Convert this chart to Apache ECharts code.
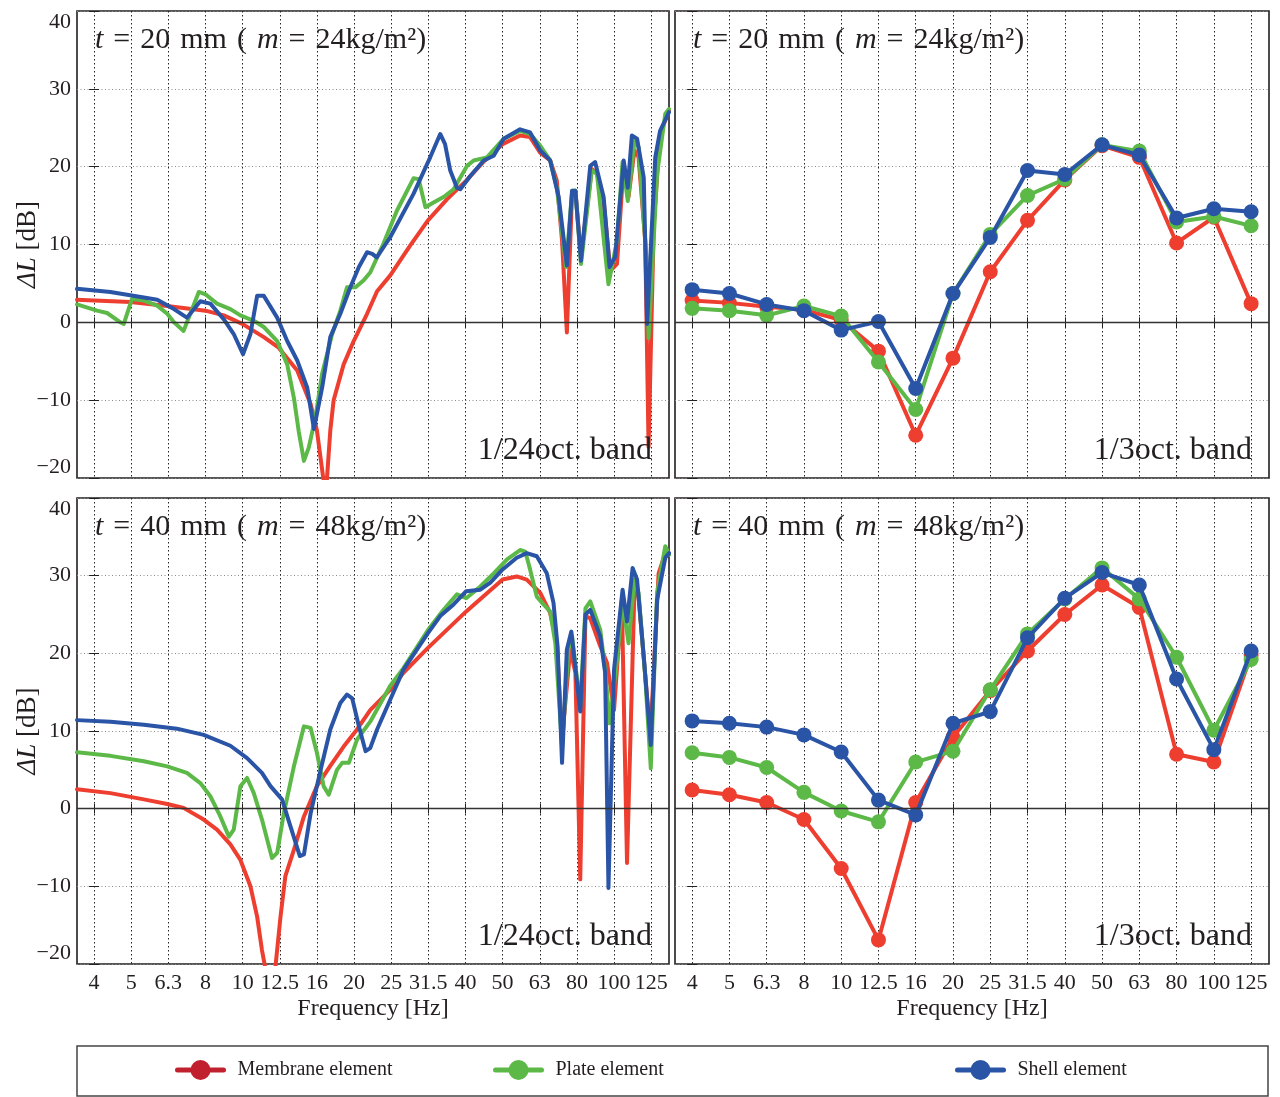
<!DOCTYPE html>
<html>
<head>
<meta charset="utf-8">
<script src="https://cdn.jsdelivr.net/npm/echarts@6/dist/echarts.min.js"></script>
<style>
  html, body { margin: 0; padding: 0; background: #ffffff; }
  #chart { width: 1280px; height: 1097px; }
</style>
</head>
<body>
<div id="chart"></div>
<script>
// 1/3-octave band centre frequencies (tick labels); x position = band index
const bandLabels = ['4', '5', '6.3', '8', '10', '12.5', '16', '20', '25', '31.5', '40', '50', '63', '80', '100', '125'];
const bandPos = bandLabels.map((_, i) => i);

// ---- 1/24-octave curves: [position in 1/3-octave bands above 4 Hz, ΔL dB] ----
const t20Membrane24 = [[-0.46,2.9],[0,2.8],[0.98,2.6],[1.97,2.1],[3.0,1.5],[3.49,0.9],[3.99,-0.2],[4.57,-1.9],[4.96,-3.2],[5.47,-6.2],[5.83,-10.5],[6.0,-13.9],[6.17,-20],[6.25,-21.5],[6.36,-13.9],[6.45,-10],[6.72,-5.4],[6.99,-2.4],[7.35,1.1],[7.62,4.0],[7.97,6.0],[8.5,9.8],[8.99,13.1],[9.5,15.8],[10.02,18.2],[10.5,20.7],[11.0,22.9],[11.47,24.0],[11.74,23.8],[12.01,21.8],[12.28,20.8],[12.46,18.2],[12.6,10.5],[12.73,-1.3],[12.87,16.5],[12.96,16.9],[13.11,8.4],[13.4,19.7],[13.54,19.1],[13.72,15.6],[13.9,6.6],[14.08,7.5],[14.26,20.3],[14.39,16.1],[14.55,22.1],[14.66,21.2],[14.84,10.5],[14.93,-16],[15.07,12.6],[15.24,24.2],[15.48,27.2]];
const t20Plate24 = [[-0.46,2.3],[0.08,1.5],[0.35,1.2],[0.71,0.0],[0.8,-0.2],[1.02,3.0],[1.34,2.8],[1.7,2.15],[1.97,1.1],[2.15,0],[2.41,-1.1],[2.82,3.9],[3.0,3.6],[3.31,2.4],[3.67,1.7],[3.94,0.9],[4.3,0.2],[4.57,-0.6],[4.93,-2.4],[5.2,-5.4],[5.38,-9.7],[5.51,-14.0],[5.65,-17.8],[5.78,-16.1],[5.96,-12.2],[6.14,-6.6],[6.41,-1.5],[6.63,1.5],[6.81,4.5],[7.04,4.5],[7.26,5.4],[7.435,6.4],[7.79,10.1],[8.15,14.3],[8.6,18.5],[8.74,18.4],[8.92,14.8],[9.14,15.4],[9.41,16.1],[9.68,17.1],[10.04,20.1],[10.22,20.8],[10.58,21.2],[11.03,23.6],[11.47,24.6],[11.74,24.2],[12.01,22.7],[12.28,20.8],[12.46,17.3],[12.71,7.1],[12.87,16.9],[12.96,16.9],[13.11,7.5],[13.4,19.5],[13.54,19.1],[13.85,4.9],[14.08,10.5],[14.23,20.6],[14.37,15.6],[14.55,23.3],[14.66,22.5],[14.87,8.4],[14.93,-2.0],[15.16,19.1],[15.38,26.8],[15.48,27.4]];
const t20Shell24 = [[-0.46,4.3],[0.44,3.9],[1.34,3.2],[1.7,2.9],[2.15,1.7],[2.5,0.6],[2.86,2.7],[3.13,2.4],[3.49,0.4],[3.76,-1.5],[4.01,-4.1],[4.21,-1.5],[4.39,3.4],[4.57,3.4],[4.93,0.6],[5.2,-2.4],[5.47,-4.9],[5.74,-8.4],[5.92,-13.7],[6.14,-8.4],[6.36,-1.9],[6.63,1.1],[6.9,4.5],[7.13,7.1],[7.35,9.0],[7.49,8.8],[7.61,8.35],[7.97,10.9],[8.6,16.5],[9.05,21.2],[9.32,24.2],[9.45,22.9],[9.59,19.5],[9.77,17.3],[9.86,17.1],[10.13,18.8],[10.49,20.8],[10.76,21.4],[11.03,23.6],[11.47,24.8],[11.74,24.4],[12.01,22.1],[12.28,20.8],[12.51,16.1],[12.73,7.3],[12.87,16.9],[12.96,16.9],[13.11,7.9],[13.36,20.1],[13.49,20.6],[13.72,16.1],[13.88,7.1],[14.03,8.4],[14.26,20.8],[14.37,17.3],[14.48,24.0],[14.62,23.6],[14.8,18.6],[14.89,-0.2],[15.11,21.2],[15.24,24.6],[15.48,27.0]];

const t40Membrane24 = [[-0.46,2.5],[0.44,2.0],[1.34,1.2],[1.97,0.6],[2.41,0.1],[2.95,-1.4],[3.31,-2.7],[3.67,-4.6],[3.94,-6.6],[4.21,-10],[4.39,-13.9],[4.52,-18.2],[4.61,-20.5],[4.72,-26],[4.88,-20.5],[5.02,-13.9],[5.15,-8.7],[5.38,-5.3],[5.65,-1.0],[6.0,2.9],[6.36,5.5],[6.72,8.0],[7.08,10.2],[7.435,12.7],[7.97,15.3],[8.33,17.5],[8.99,20.7],[10.02,25.4],[11.0,29.5],[11.38,29.9],[11.65,29.5],[12.01,27.8],[12.28,25.2],[12.46,21.3],[12.6,9.0],[12.82,20.5],[12.96,17.5],[13.09,-9.1],[13.23,24.8],[13.36,24.5],[13.63,20.9],[13.81,18.8],[14.0,12.7],[14.21,26.9],[14.35,-7.0],[14.55,28.2],[14.66,27.3],[14.98,9.3],[15.2,30.3],[15.38,32.9],[15.48,32.9]];
const t40Plate24 = [[-0.46,7.25],[0.44,6.8],[1.34,6.1],[1.97,5.45],[2.5,4.6],[2.86,3.3],[3.13,1.6],[3.4,-1.0],[3.63,-3.6],[3.76,-2.7],[3.94,2.9],[4.12,3.95],[4.3,2.0],[4.52,-1.4],[4.79,-6.35],[4.93,-5.7],[5.11,-0.56],[5.38,5.45],[5.65,10.6],[5.83,10.4],[6.0,7.2],[6.18,2.9],[6.32,1.8],[6.54,5.0],[6.68,5.9],[6.86,5.9],[7.08,8.9],[7.435,11.2],[7.97,15.8],[8.33,18.1],[8.99,23.0],[9.41,25.6],[9.77,27.6],[10.02,27.1],[10.4,28.6],[10.76,30.3],[11.12,32.1],[11.47,33.3],[11.61,33.1],[11.74,30.8],[11.92,27.3],[12.1,26.3],[12.28,25.4],[12.42,21.3],[12.6,8.0],[12.77,20.5],[12.87,22.2],[13.09,13.2],[13.23,25.8],[13.36,26.7],[13.63,23.0],[13.76,17.9],[13.88,11.0],[14.08,19.2],[14.23,26.7],[14.39,21.3],[14.55,29.5],[14.66,27.8],[14.84,17.0],[14.99,5.2],[15.16,27.8],[15.38,33.8],[15.48,32.7]];
const t40Shell24 = [[-0.46,11.4],[0.44,11.2],[1.34,10.8],[2.23,10.3],[2.95,9.5],[3.67,8.1],[4.12,6.5],[4.52,4.6],[4.75,2.9],[5.06,1.2],[5.29,-2.3],[5.54,-6.1],[5.65,-5.9],[5.83,-0.6],[6.1,5.0],[6.36,10.2],[6.63,13.6],[6.81,14.7],[6.95,14.2],[7.13,10.6],[7.31,7.4],[7.435,7.8],[7.62,10.2],[7.97,14.0],[8.33,17.9],[8.99,22.6],[9.32,24.8],[9.68,26.3],[10.02,28.0],[10.4,28.2],[10.67,29.1],[11.0,30.8],[11.38,32.3],[11.65,32.9],[11.92,32.5],[12.19,30.3],[12.37,26.5],[12.48,20.9],[12.6,5.9],[12.73,20.5],[12.85,22.8],[13.09,12.5],[13.23,25.0],[13.36,25.6],[13.63,22.2],[13.76,17.5],[13.85,-10.2],[14.0,17.9],[14.23,28.2],[14.35,24.1],[14.5,31.0],[14.62,29.5],[14.8,19.6],[14.99,8.2],[15.16,26.9],[15.38,32.3],[15.48,32.9]];

// ---- 1/3-octave band values, one per entry of bandLabels ----
const t20Membrane3 = [2.8, 2.5, 2.0, 1.6, 0.3, -3.7, -14.5, -4.6, 6.5, 13.1, 18.3, 22.7, 21.2, 10.2, 13.5, 2.4];
const t20Plate3    = [1.8, 1.5, 0.9, 2.1, 0.8, -5.1, -11.2, 3.7, 11.3, 16.3, 18.4, 22.8, 22.0, 12.9, 13.6, 12.4];
const t20Shell3    = [4.2, 3.7, 2.3, 1.5, -1.0, 0.1, -8.5, 3.7, 10.9, 19.5, 19.0, 22.8, 21.5, 13.4, 14.6, 14.2];
const t40Membrane3 = [2.4, 1.8, 0.8, -1.4, -7.7, -16.9, 0.8, 9.2, 15.2, 20.3, 25.0, 28.8, 25.9, 7.0, 6.0, 19.8];
const t40Plate3    = [7.2, 6.6, 5.3, 2.1, -0.3, -1.7, 6.0, 7.4, 15.3, 22.5, 27.0, 31.0, 27.0, 19.5, 10.1, 19.2];
const t40Shell3    = [11.3, 11.0, 10.5, 9.5, 7.3, 1.1, -0.8, 11.0, 12.5, 22.0, 27.1, 30.4, 28.8, 16.7, 7.6, 20.3];

const seriesNames = ['Membrane element', 'Plate element', 'Shell element'];
const SP = '\u2004';
const panelTitles = [
  '{i|t}' + SP + '=' + SP + '20' + SP + 'mm' + SP + '(' + SP + '{i|m}' + SP + '=' + SP + '24kg/m²)',
  '{i|t}' + SP + '=' + SP + '40' + SP + 'mm' + SP + '(' + SP + '{i|m}' + SP + '=' + SP + '48kg/m²)'
];
const bandNotes = ['1/24oct. band', '1/3oct. band'];

// ---- styling ----
const COLORS = ['#ee3e2f', '#5cb947', '#2a54a5'];
const LEGEND_COLORS = ['#c1202f', '#5cb947', '#2a54a5'];
const INK = '#231f20';
const SERIF = '"Liberation Serif", "Times New Roman", serif';
const X_MIN = -0.46, X_MAX = 15.48;

// panel rectangles: [left, top, width, height]
const panels = [
  { rect: [77, 11, 592, 467], curves: [t20Membrane24, t20Plate24, t20Shell24], bands: false, yLabels: true, xLabels: false },
  { rect: [675, 11, 594, 467], curves: [t20Membrane3, t20Plate3, t20Shell3], bands: true, yLabels: false, xLabels: false },
  { rect: [77, 498, 592, 466], curves: [t40Membrane24, t40Plate24, t40Shell24], bands: false, yLabels: true, xLabels: true },
  { rect: [675, 498, 594, 466], curves: [t40Membrane3, t40Plate3, t40Shell3], bands: true, yLabels: false, xLabels: true }
];

const grids = [], xAxes = [], yAxes = [], series = [], graphics = [];
const fmtY = v => (v < 0 ? '\u2212' + (-v) : String(v));

panels.forEach((p, g) => {
  const [l, t, w, h] = p.rect;
  grids.push({ left: l, top: t, width: w, height: h, show: true, borderColor: INK, borderWidth: 1.6,
               backgroundColor: 'transparent', outerBoundsMode: 'none', containLabel: false });

  xAxes.push({
    type: 'value', gridIndex: g, min: X_MIN, max: X_MAX, position: 'bottom',
    axisLine: { show: false },
    axisTick: { show: true, inside: true, length: 5, customValues: bandPos, lineStyle: { color: INK, width: 1 } },
    axisLabel: { show: p.xLabels, customValues: bandPos, formatter: v => bandLabels[Math.round(v)],
                 fontFamily: SERIF, fontSize: 22, color: INK, margin: 8 },
    splitLine: { show: true, lineStyle: { color: '#222', width: 1, type: [1.5, 2.5] } },
    name: p.xLabels ? 'Frequency [Hz]' : '', nameLocation: 'middle', nameGap: 33, nameMoveOverlap: false,
    nameTextStyle: { fontFamily: SERIF, fontSize: 24, color: INK }
  });
  xAxes.push({
    type: 'value', gridIndex: g, min: X_MIN, max: X_MAX, position: 'top',
    axisLine: { show: false },
    axisTick: { show: true, inside: true, length: 5, customValues: bandPos, lineStyle: { color: INK, width: 1 } },
    axisLabel: { show: false }, splitLine: { show: false }
  });

  yAxes.push({
    type: 'value', gridIndex: g, min: -20, max: 40, interval: 10, position: 'left',
    axisLine: { show: false },
    axisTick: { show: true, inside: true, length: 5, lineStyle: { color: INK, width: 1 } },
    axisLabel: { show: p.yLabels, formatter: fmtY, fontFamily: SERIF, fontSize: 22, color: INK, margin: 6,
                 verticalAlignMinLabel: 'bottom', verticalAlignMaxLabel: 'top' },
    splitLine: { show: true, lineStyle: { color: '#8a8a8a', width: 1, type: [1, 2.5] } },
    name: p.yLabels ? '{i|ΔL} [dB]' : '', nameLocation: 'middle', nameRotate: 90, nameGap: 36, nameMoveOverlap: false,
    nameTextStyle: { fontFamily: SERIF, fontSize: 27, color: INK,
                     rich: { i: { fontFamily: SERIF, fontSize: 27, fontStyle: 'italic', color: INK } } }
  });
  yAxes.push({
    type: 'value', gridIndex: g, min: -20, max: 40, interval: 10, position: 'right',
    axisLine: { show: false },
    axisTick: { show: true, inside: true, length: 5, lineStyle: { color: INK, width: 1 } },
    axisLabel: { show: false }, splitLine: { show: false }
  });

  // zero reference line
  series.push({
    type: 'line', xAxisIndex: 2 * g, yAxisIndex: 2 * g, data: [], silent: true, z: 1,
    markLine: { silent: true, symbol: 'none', label: { show: false }, animation: false,
                lineStyle: { color: '#333', width: 1.3, type: 'solid' }, data: [{ yAxis: 0 }] }
  });

  p.curves.forEach((vals, k) => {
    const common = {
      type: 'line', name: seriesNames[k], xAxisIndex: 2 * g, yAxisIndex: 2 * g,
      z: 2 + k, animation: false, clip: true,
      lineStyle: { color: COLORS[k], width: 4, join: 'round', cap: 'round' },
      itemStyle: { color: COLORS[k] }
    };
    if (p.bands) {
      series.push(Object.assign(common, {
        data: vals.map((v, i) => [i, v]), symbol: 'circle', symbolSize: 15, showSymbol: true
      }));
    } else {
      series.push(Object.assign(common, { data: vals, symbol: 'none', showSymbol: false }));
    }
  });

  // panel title and band-resolution note
  const row = g < 2 ? 0 : 1;
  graphics.push({
    type: 'text', x: l + 18, y: t + 29, z: 10,
    style: { text: panelTitles[row], fill: INK, fontFamily: SERIF, fontSize: 30,
             verticalAlign: 'middle', align: 'left',
             rich: { i: { fontFamily: SERIF, fontSize: 30, fontStyle: 'italic', fill: INK } } }
  });
  graphics.push({
    type: 'text', x: l + w - 17, y: t + h - 27, z: 10,
    style: { text: bandNotes[p.bands ? 1 : 0], fill: INK, fontFamily: SERIF, fontSize: 32,
             verticalAlign: 'middle', align: 'right' }
  });
});

// legend frame
graphics.push({
  type: 'rect', z: 0, silent: true,
  shape: { x: 77, y: 1046, width: 1191, height: 50 },
  style: { fill: 'none', stroke: '#444', lineWidth: 1.5 }
});

const legendLefts = [175, 493, 955];
const legends = seriesNames.map((name, k) => ({
  show: true, left: legendLefts[k], top: 1060, padding: 0, orient: 'horizontal',
  itemWidth: 46, itemHeight: 25, selectedMode: false,
  data: [{ name: name, itemStyle: { color: LEGEND_COLORS[k] }, lineStyle: { color: LEGEND_COLORS[k], width: 5 } }],
  textStyle: { fontFamily: SERIF, fontSize: 20, color: INK, padding: [0, 0, 0, 9] }
}));

const chart = echarts.init(document.getElementById('chart'), null, { renderer: 'canvas' });
chart.setOption({
  backgroundColor: '#ffffff',
  animation: false,
  grid: grids,
  xAxis: xAxes,
  yAxis: yAxes,
  legend: legends,
  series: series,
  graphic: graphics
});
</script>
</body>
</html>
